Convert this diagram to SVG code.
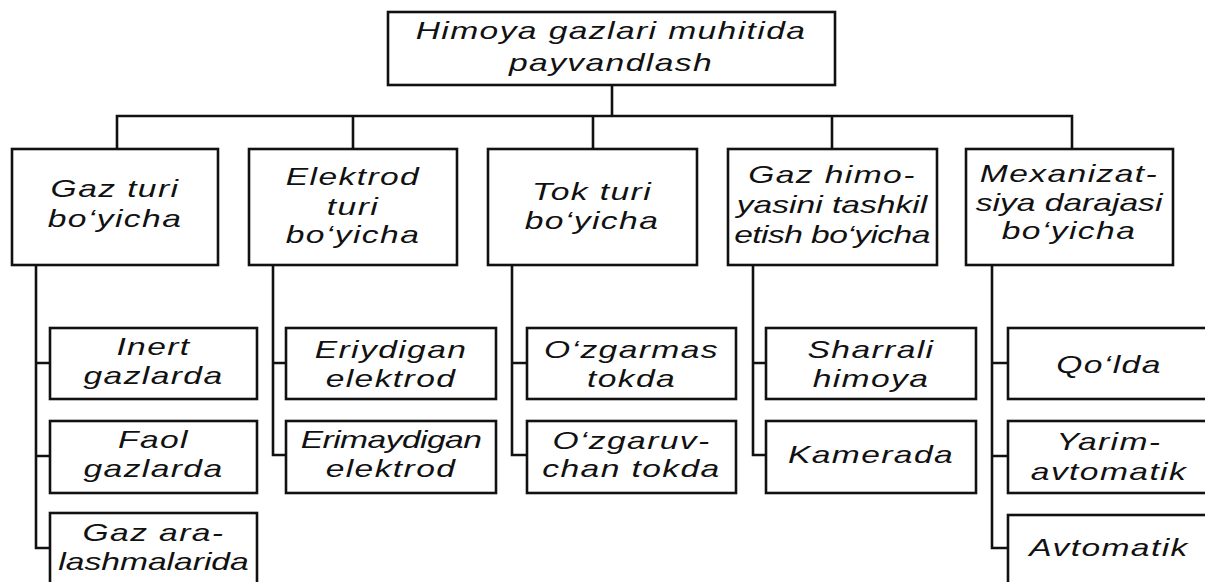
<svg xmlns="http://www.w3.org/2000/svg" width="1205" height="582" viewBox="0 0 1205 582">
<style>
.box{fill:#fff;stroke:#111;stroke-width:2.6}
.ln{fill:none;stroke:#111;stroke-width:2.6;stroke-linejoin:miter}
.t{font-family:"Liberation Sans",Arial,sans-serif;font-style:italic;font-size:24px;letter-spacing:1px;text-anchor:middle;fill:#111}
.tight{letter-spacing:0px}
.tighter{letter-spacing:-0.4px}
</style>
<rect width="1205" height="582" fill="#fff"/>
<g id="connectors">
<path class="ln" d="M612 85V116M117 149V116H1072V149M353 116V149M593 116V149M832 116V149"/>
<path class="ln" d="M36 265V548H50M36 363H50M36 456H50"/>
<path class="ln" d="M273 265V455H286M273 363H286"/>
<path class="ln" d="M512 265V455H527M512 363H527"/>
<path class="ln" d="M753 265V455H766M753 363H766"/>
<path class="ln" d="M992 265V548H1008M992 363H1008M992 456H1008"/>
</g>
<g id="root">
<rect class="box" x="388" y="12" width="447" height="73"/>
<text class="t" transform="matrix(1.4 0 0 1 611 0)"><tspan x="0" y="39">Himoya gazlari muhitida</tspan><tspan x="0" y="71">payvandlash</tspan></text>
</g>
<g id="gaz-turi">
<rect class="box" x="12" y="149" width="206" height="116"/>
<text class="t" transform="matrix(1.4 0 0 1 115 0)"><tspan x="0" y="197">Gaz turi</tspan><tspan x="0" y="227">bo‘yicha</tspan></text>
</g>
<g id="elektrod-turi">
<rect class="box" x="249" y="149" width="208" height="116"/>
<text class="t" transform="matrix(1.4 0 0 1 353 0)"><tspan x="0" y="185">Elektrod</tspan><tspan x="0" y="215">turi</tspan><tspan x="0" y="243">bo‘yicha</tspan></text>
</g>
<g id="tok-turi">
<rect class="box" x="488" y="149" width="209" height="116"/>
<text class="t" transform="matrix(1.4 0 0 1 592 0)"><tspan x="0" y="200">Tok turi</tspan><tspan x="0" y="229">bo‘yicha</tspan></text>
</g>
<g id="gaz-himoyasi">
<rect class="box" x="728" y="149" width="209" height="116"/>
<text class="t" transform="matrix(1.4 0 0 1 832 0)"><tspan x="0" y="183">Gaz himo-</tspan><tspan class="tight" x="0" y="213">yasini tashkil</tspan><tspan class="tighter" x="0" y="243">etish bo‘yicha</tspan></text>
</g>
<g id="mexanizatsiya">
<rect class="box" x="966" y="149" width="207" height="116"/>
<text class="t" transform="matrix(1.4 0 0 1 1069 0)"><tspan x="0" y="182">Mexanizat-</tspan><tspan class="tight" x="0" y="211">siya darajasi</tspan><tspan x="0" y="239">bo‘yicha</tspan></text>
</g>
<g id="inert">
<rect class="box" x="50" y="328" width="207" height="71"/>
<text class="t" transform="matrix(1.4 0 0 1 153.5 0)"><tspan x="0" y="355">Inert</tspan><tspan x="0" y="384">gazlarda</tspan></text>
</g>
<g id="faol">
<rect class="box" x="50" y="421" width="207" height="72"/>
<text class="t" transform="matrix(1.4 0 0 1 153.5 0)"><tspan x="0" y="448">Faol</tspan><tspan x="0" y="477">gazlarda</tspan></text>
</g>
<g id="aralashma">
<rect class="box" x="50" y="513" width="207" height="95"/>
<text class="t" transform="matrix(1.4 0 0 1 153.5 0)"><tspan x="0" y="541">Gaz ara-</tspan><tspan class="tight" x="0" y="570">lashmalarida</tspan></text>
</g>
<g id="eriydigan">
<rect class="box" x="286" y="328" width="210" height="71"/>
<text class="t" transform="matrix(1.4 0 0 1 391 0)"><tspan x="0" y="358">Eriydigan</tspan><tspan x="0" y="387">elektrod</tspan></text>
</g>
<g id="erimaydigan">
<rect class="box" x="286" y="421" width="210" height="72"/>
<text class="t" transform="matrix(1.4 0 0 1 391 0)"><tspan class="tighter" x="0" y="448">Erimaydigan</tspan><tspan x="0" y="477">elektrod</tspan></text>
</g>
<g id="ozgarmas">
<rect class="box" x="527" y="328" width="209" height="71"/>
<text class="t" transform="matrix(1.4 0 0 1 631.5 0)"><tspan x="0" y="358">O‘zgarmas</tspan><tspan x="0" y="387">tokda</tspan></text>
</g>
<g id="ozgaruvchan">
<rect class="box" x="527" y="421" width="209" height="72"/>
<text class="t" transform="matrix(1.4 0 0 1 631.5 0)"><tspan x="0" y="449">O‘zgaruv-</tspan><tspan x="0" y="477">chan tokda</tspan></text>
</g>
<g id="sharrali">
<rect class="box" x="766" y="328" width="210" height="71"/>
<text class="t" transform="matrix(1.4 0 0 1 871 0)"><tspan x="0" y="358">Sharrali</tspan><tspan x="0" y="387">himoya</tspan></text>
</g>
<g id="kamerada">
<rect class="box" x="766" y="421" width="210" height="72"/>
<text class="t" transform="matrix(1.4 0 0 1 871 0)"><tspan x="0" y="463">Kamerada</tspan></text>
</g>
<g id="qolda">
<rect class="box" x="1008" y="328" width="210" height="71"/>
<text class="t" transform="matrix(1.4 0 0 1 1109 0)"><tspan x="0" y="373">Qo‘lda</tspan></text>
</g>
<g id="yarimavtomatik">
<rect class="box" x="1008" y="421" width="210" height="72"/>
<text class="t" transform="matrix(1.4 0 0 1 1109 0)"><tspan x="0" y="450">Yarim-</tspan><tspan x="0" y="480">avtomatik</tspan></text>
</g>
<g id="avtomatik">
<rect class="box" x="1008" y="515" width="210" height="95"/>
<text class="t" transform="matrix(1.4 0 0 1 1109 0)"><tspan x="0" y="556">Avtomatik</tspan></text>
</g>
</svg>
